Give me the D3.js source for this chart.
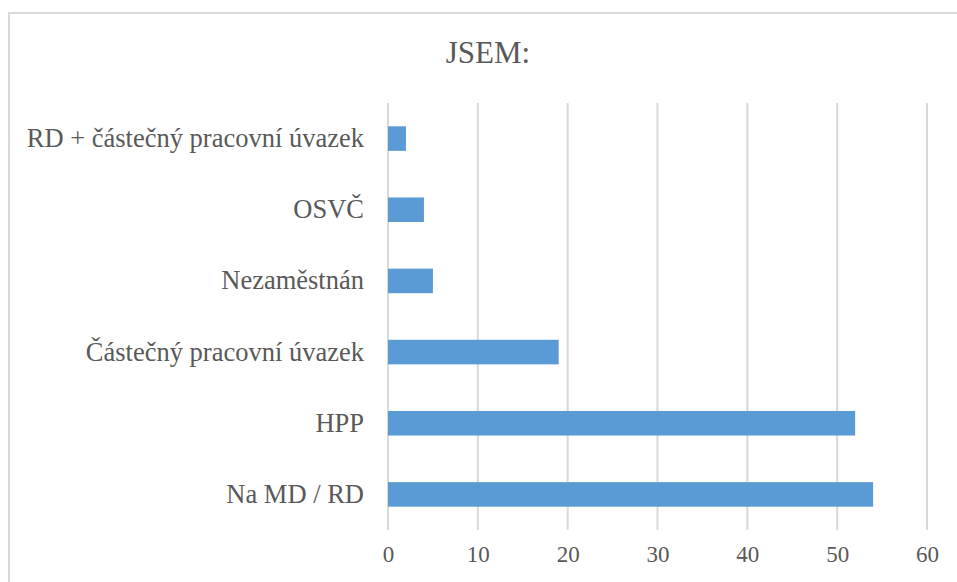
<!DOCTYPE html>
<html>
<head>
<meta charset="utf-8">
<script src="https://cdn.jsdelivr.net/npm/d3@7"></script>
<style>
  body { margin: 0; background: #fff; }
  svg text { font-family: "Liberation Serif", "Times New Roman", Tinos, "DejaVu Serif", serif !important; }
</style>
</head>
<body>
<svg id="chart"></svg>
<script>
const title = "JSEM:";
const categories = ["RD + částečný pracovní úvazek", "OSVČ", "Nezaměstnán", "Částečný pracovní úvazek", "HPP", "Na MD / RD"];
const values = [2, 4, 5, 19, 52, 54];
const xTicks = [0, 10, 20, 30, 40, 50, 60];

var width = 957, height = 582;
var margin = {left: 388, right: 30, top: 103, bottom: 52};

var svg = d3.select("#chart")
  .attr("width", width)
  .attr("height", height);

// chart border (right and bottom edges fall outside the picture)
svg.append("rect")
  .attr("x", 9).attr("y", 13)
  .attr("width", 980).attr("height", 600)
  .attr("fill", "none")
  .attr("stroke", "#d9d9d9")
  .attr("stroke-width", 2);

var x = d3.scaleLinear()
  .domain([0, 60])
  .range([margin.left, 927]);

var y = d3.scaleBand()
  .domain(categories)
  .range([margin.top, height - margin.bottom])
  .paddingInner(0.655)
  .paddingOuter(0.3275);

// gridlines
svg.append("g")
  .selectAll("line")
  .data(xTicks)
  .join("line")
    .attr("x1", d => x(d)).attr("x2", d => x(d))
    .attr("y1", margin.top).attr("y2", height - margin.bottom)
    .attr("stroke", "#d9d9d9")
    .attr("stroke-width", 2);

// bars
svg.append("g")
  .selectAll("rect")
  .data(values)
  .join("rect")
    .attr("x", x(0))
    .attr("y", (d, i) => y(categories[i]))
    .attr("width", d => x(d) - x(0))
    .attr("height", y.bandwidth())
    .attr("fill", "#5b9bd5");

// x axis labels
var xAxis = svg.append("g")
  .attr("transform", `translate(0,${height - margin.bottom})`)
  .call(d3.axisBottom(x).tickValues(xTicks).tickSize(0).tickPadding(16));
xAxis.select(".domain").remove();
xAxis.selectAll("text")
  .attr("font-size", 23)
  .attr("fill", "#595959");

// category labels
var yAxis = svg.append("g")
  .attr("transform", `translate(${margin.left},0)`)
  .call(d3.axisLeft(y).tickSize(0).tickPadding(24));
yAxis.select(".domain").remove();
yAxis.selectAll("text")
  .attr("font-size", 26.5)
  .attr("fill", "#595959");

svg.append("text")
  .attr("x", 488)
  .attr("y", 63)
  .attr("text-anchor", "middle")
  .attr("font-size", 31)
  .attr("fill", "#595959")
  .text(title);
</script>
</body>
</html>
